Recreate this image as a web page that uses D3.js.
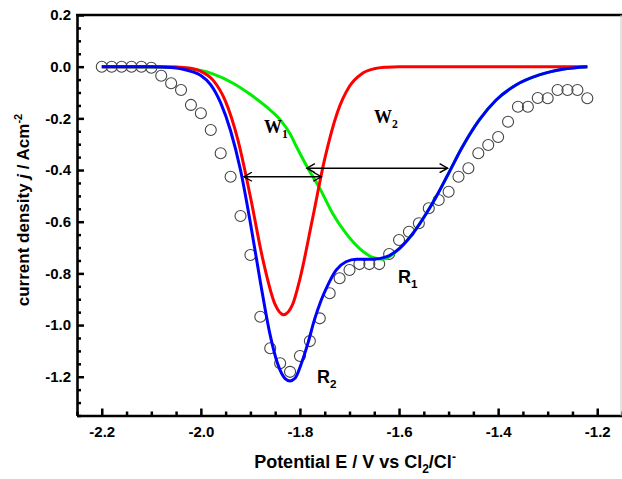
<!DOCTYPE html>
<html>
<head>
<meta charset="utf-8">
<script src="https://cdn.jsdelivr.net/npm/d3@7/dist/d3.min.js"></script>
<style>
  body { margin: 0; background: #fff; }
  svg { display: block; }
</style>
</head>
<body>
<div id="chart"></div>
<script>
// experimental points (open circles)
const expE = [-2.20, -2.18, -2.16, -2.14, -2.12, -2.10, -2.08, -2.06, -2.04, -2.02,
  -2.00, -1.98, -1.96, -1.94, -1.92, -1.90, -1.88, -1.86, -1.84, -1.82,
  -1.80, -1.78, -1.76, -1.74, -1.72, -1.70, -1.68, -1.66, -1.64, -1.62,
  -1.60, -1.58, -1.56, -1.54, -1.52, -1.50, -1.48, -1.46, -1.44, -1.42,
  -1.40, -1.38, -1.36, -1.34, -1.32, -1.30, -1.28, -1.26, -1.24, -1.22];
const expJ = [0, 0, 0, 0, 0, -0.004, -0.035, -0.064, -0.090, -0.148,
  -0.180, -0.245, -0.335, -0.426, -0.578, -0.729, -0.968, -1.090, -1.148, -1.181,
  -1.120, -1.062, -0.974, -0.877, -0.819, -0.787, -0.764, -0.764, -0.764, -0.725,
  -0.671, -0.639, -0.606, -0.548, -0.516, -0.484, -0.426, -0.393, -0.335, -0.303,
  -0.272, -0.213, -0.155, -0.155, -0.121, -0.122, -0.090, -0.090, -0.090, -0.122];

// fitted sum (blue)
const sumE = [-2.20, -2.10, -2.06, -2.04, -2.02, -2.00, -1.98, -1.96, -1.94, -1.92,
  -1.90, -1.88, -1.86, -1.845, -1.83, -1.82, -1.81, -1.797, -1.784, -1.771,
  -1.757, -1.745, -1.727, -1.707, -1.686, -1.653, -1.626, -1.599, -1.572, -1.545,
  -1.525, -1.502, -1.472, -1.438, -1.404, -1.364, -1.317, -1.270, -1.22];
const sumJ = [0, 0, -0.003, -0.008, -0.018, -0.034, -0.070, -0.140, -0.248, -0.40,
  -0.605, -0.832, -1.04, -1.15, -1.207, -1.216, -1.206, -1.148, -1.071, -0.981,
  -0.903, -0.85, -0.787, -0.755, -0.745, -0.745, -0.736, -0.703, -0.645, -0.568,
  -0.503, -0.42, -0.310, -0.206, -0.129, -0.071, -0.032, -0.010, 0];

// peak R2 (red)
const r2E = [-2.20, -2.08, -2.05, -2.025, -2.00, -1.975, -1.95, -1.925, -1.90, -1.875,
  -1.85, -1.833, -1.815, -1.80, -1.775, -1.75, -1.725, -1.70, -1.675, -1.65,
  -1.625, -1.60, -1.22];
const r2J = [0, 0, -0.001, -0.005, -0.018, -0.053, -0.135, -0.285, -0.504, -0.745,
  -0.921, -0.96, -0.921, -0.821, -0.592, -0.357, -0.180, -0.076, -0.027, -0.008,
  -0.002, 0, 0];

// peak R1 (green)
const r1E = [-2.20, -2.05, -2.02, -2.00, -1.976, -1.935, -1.902, -1.868, -1.84, -1.82,
  -1.807, -1.784, -1.76, -1.734, -1.707, -1.68, -1.653, -1.633, -1.599, -1.572,
  -1.545, -1.525, -1.502, -1.472, -1.438, -1.404, -1.364, -1.317, -1.270, -1.22];
const r1J = [0, -0.002, -0.008, -0.015, -0.028, -0.064, -0.105, -0.155, -0.205, -0.26,
  -0.31, -0.393, -0.471, -0.568, -0.645, -0.703, -0.738, -0.745, -0.703, -0.645,
  -0.568, -0.503, -0.42, -0.310, -0.206, -0.129, -0.071, -0.032, -0.010, 0];

const xTicks = [-2.2, -2.0, -1.8, -1.6, -1.4, -1.2];
const yTicks = [0.2, 0.0, -0.2, -0.4, -0.6, -0.8, -1.0, -1.2];

// half-width arrows: [from E, to E, at j]
const widthArrows = [
  { name: 'W1', e0: -1.913, e1: -1.757, j: -0.426 },
  { name: 'W2', e0: -1.786, e1: -1.502, j: -0.393 }
];

const W = 622, H = 479;
const x = d3.scaleLinear().domain([-2.25, -1.15]).range([77, 622]);
const y = d3.scaleLinear().domain([-1.35, 0.2]).range([415.5, 15]);

const svg = d3.select('#chart').append('svg').attr('width', W).attr('height', H);

// minor ticks every 0.05
const xMinor = d3.range(-2.25, -1.149, 0.05).filter(v => !xTicks.some(t => Math.abs(t - v) < 1e-6));
const yMinor = d3.range(-1.35, 0.201, 0.05).filter(v => !yTicks.some(t => Math.abs(t - v) < 1e-6));

const fmt = v => v.toFixed(1);

svg.append('g')
  .attr('transform', `translate(0,${y(-1.35)})`)
  .call(d3.axisBottom(x).tickValues(xMinor).tickSize(-4).tickSizeOuter(0).tickFormat(''))
  .call(g => g.select('.domain').remove());
svg.append('g')
  .attr('transform', `translate(${x(-2.25)},0)`)
  .call(d3.axisLeft(y).tickValues(yMinor).tickSize(-4).tickSizeOuter(0).tickFormat(''))
  .call(g => g.select('.domain').remove());

const xAxis = svg.append('g')
  .attr('transform', `translate(0,${y(-1.35)})`)
  .call(d3.axisBottom(x).tickValues(xTicks).tickSize(-7).tickSizeOuter(0).tickPadding(11).tickFormat(fmt));
const yAxis = svg.append('g')
  .attr('transform', `translate(${x(-2.25)},0)`)
  .call(d3.axisLeft(y).tickValues(yTicks).tickSize(-7).tickSizeOuter(0).tickPadding(6).tickFormat(fmt));

svg.selectAll('.tick line').attr('stroke', '#000').attr('stroke-width', 2.5);
svg.selectAll('.domain').attr('stroke', '#000').attr('stroke-width', 2.6);
[xAxis, yAxis].forEach(a => a.selectAll('text')
  .attr('fill', '#000')
  .style('font-family', 'Arial, "Liberation Sans", sans-serif')
  .style('font-weight', 'bold')
  .style('font-size', '15px'));

// frame: top black, right faint
svg.append('line').attr('x1', 76).attr('x2', W).attr('y1', y(0.2)).attr('y2', y(0.2))
  .attr('stroke', '#000').attr('stroke-width', 2.6);
svg.append('line').attr('x1', W - 1).attr('x2', W - 1).attr('y1', y(0.2)).attr('y2', y(-1.35))
  .attr('stroke', '#c8c8c8').attr('stroke-width', 1);

// experimental circles
svg.append('g').selectAll('circle')
  .data(expE.map((e, i) => [e, expJ[i]]))
  .join('circle')
  .attr('cx', d => x(d[0]))
  .attr('cy', d => y(d[1]))
  .attr('r', 5.5)
  .attr('fill', 'none')
  .attr('stroke', '#444')
  .attr('stroke-width', 1.1);

const line = d3.line().x(d => x(d[0])).y(d => y(d[1])).curve(d3.curveMonotoneX);
const series = [
  { e: r1E, j: r1J, color: '#00ee00' },
  { e: r2E, j: r2J, color: '#ff0000' },
  { e: sumE, j: sumJ, color: '#0000ff' }
];
series.forEach(s => {
  svg.append('path')
    .datum(s.e.map((e, i) => [e, s.j[i]]))
    .attr('d', line)
    .attr('fill', 'none')
    .attr('stroke', s.color)
    .attr('stroke-width', 3)
    .attr('stroke-linejoin', 'round');
});

// double-headed arrows
const defs = svg.append('defs');
['start', 'end'].forEach(k => {
  defs.append('marker')
    .attr('id', 'arr-' + k)
    .attr('viewBox', '-10 -5 12 10')
    .attr('refX', 0).attr('refY', 0)
    .attr('markerWidth', 12).attr('markerHeight', 10)
    .attr('markerUnits', 'userSpaceOnUse')
    .attr('orient', k === 'end' ? 'auto' : 'auto-start-reverse')
    .append('path')
    .attr('d', 'M-8,-4.5L0,0L-8,4.5')
    .attr('fill', 'none')
    .attr('stroke', '#000')
    .attr('stroke-width', 1.4);
});
widthArrows.forEach(a => {
  svg.append('line')
    .attr('x1', x(a.e0)).attr('x2', x(a.e1))
    .attr('y1', y(a.j)).attr('y2', y(a.j))
    .attr('stroke', '#000').attr('stroke-width', 1.4)
    .attr('marker-start', 'url(#arr-start)')
    .attr('marker-end', 'url(#arr-end)');
});

// peak labels
function subLabel(tx, ty, main, sub, family, size) {
  const t = svg.append('text')
    .attr('x', tx).attr('y', ty)
    .attr('fill', '#000')
    .style('font-family', family)
    .style('font-weight', 'bold')
    .style('font-size', size + 'px');
  t.append('tspan').text(main);
  t.append('tspan').attr('dy', size * 0.3).style('font-size', (size * 0.65) + 'px').text(sub);
}
const serif = '"Times New Roman", "Liberation Serif", serif';
const sans = 'Arial, "Liberation Sans", sans-serif';
subLabel(264, 133, 'W', '1', serif, 18);
subLabel(374, 123, 'W', '2', serif, 18);
subLabel(398, 283, 'R', '1', sans, 18);
subLabel(317, 383, 'R', '2', sans, 18);

// axis titles
const xt = svg.append('text')
  .attr('x', 355).attr('y', 468)
  .attr('text-anchor', 'middle')
  .attr('fill', '#000')
  .style('font-family', sans).style('font-weight', 'bold').style('font-size', '18px');
xt.append('tspan').text('Potential E / V vs Cl');
xt.append('tspan').attr('dy', 5).style('font-size', '12px').text('2');
xt.append('tspan').attr('dy', -5).text('/Cl');
xt.append('tspan').attr('dy', -7).style('font-size', '12px').text('-');

const yt = svg.append('text')
  .attr('transform', 'translate(29,210) rotate(-90)')
  .attr('text-anchor', 'middle')
  .attr('fill', '#000')
  .style('font-family', sans).style('font-weight', 'bold').style('font-size', '17px');
yt.append('tspan').text('current density ');
yt.append('tspan').style('font-style', 'italic').text('j');
yt.append('tspan').text(' / Acm');
yt.append('tspan').attr('dy', -7).style('font-size', '11px').text('-2');
</script>
</body>
</html>
